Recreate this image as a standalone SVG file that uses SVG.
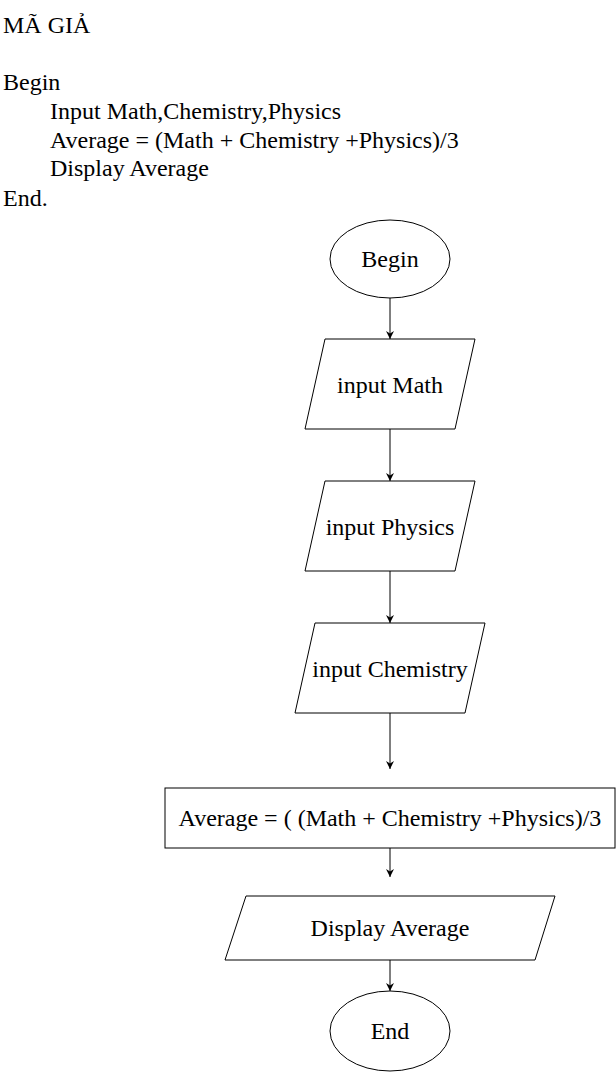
<svg xmlns="http://www.w3.org/2000/svg" width="616" height="1072" viewBox="0 0 616 1072">
<style>
text{font-family:"Liberation Serif","Times New Roman",serif;font-size:24px;fill:#000}
.c{text-anchor:middle}
.s{fill:#fff;stroke:#000;stroke-width:1}
.e{stroke:#000;stroke-width:1;fill:none}
</style>
<defs>
<marker id="a" viewBox="0 0 10 10" refX="10" refY="5" markerWidth="8" markerHeight="8" markerUnits="userSpaceOnUse" orient="auto"><path d="M0,0L10,5L0,10L3,5z" fill="#000"/></marker>
</defs>
<rect width="616" height="1072" fill="#fff"/>
<g id="pseudocode">
<text x="3" y="33">MÃ GIẢ</text>
<text x="3" y="90">Begin</text>
<text x="50" y="119">Input Math,Chemistry,Physics</text>
<text x="50" y="148">Average = (Math + Chemistry +Physics)/3</text>
<text x="50" y="176">Display Average</text>
<text x="3" y="206">End.</text>
</g>
<g id="connectors">
<line class="e" x1="390" y1="298" x2="390" y2="339" marker-end="url(#a)"/>
<line class="e" x1="390" y1="429" x2="390" y2="481" marker-end="url(#a)"/>
<line class="e" x1="390" y1="571" x2="390" y2="623" marker-end="url(#a)"/>
<line class="e" x1="390" y1="713" x2="390" y2="769" marker-end="url(#a)"/>
<line class="e" x1="390" y1="848" x2="390" y2="877" marker-end="url(#a)"/>
<line class="e" x1="390" y1="960" x2="390" y2="991" marker-end="url(#a)"/>
</g>
<g id="begin">
<ellipse class="s" cx="390" cy="259" rx="60" ry="39"/>
<text class="c" x="390" y="267">Begin</text>
</g>
<g id="inputMath">
<polygon class="s" points="325,339 475,339 455,429 305,429"/>
<text class="c" x="390" y="393">input Math</text>
</g>
<g id="inputPhysics">
<polygon class="s" points="325,481 475,481 455,571 305,571"/>
<text class="c" x="390" y="535">input Physics</text>
</g>
<g id="inputChemistry">
<polygon class="s" points="315,623 485,623 465,713 295,713"/>
<text class="c" x="390" y="677">input Chemistry</text>
</g>
<g id="average">
<rect class="s" x="165" y="788" width="450" height="60"/>
<text class="c" x="390" y="826">Average = ( (Math + Chemistry +Physics)/3</text>
</g>
<g id="display">
<polygon class="s" points="246,896 555,896 535,960 225,960"/>
<text class="c" x="390" y="936">Display Average</text>
</g>
<g id="end">
<ellipse class="s" cx="390" cy="1031" rx="60" ry="40"/>
<text class="c" x="390" y="1039">End</text>
</g>
</svg>
